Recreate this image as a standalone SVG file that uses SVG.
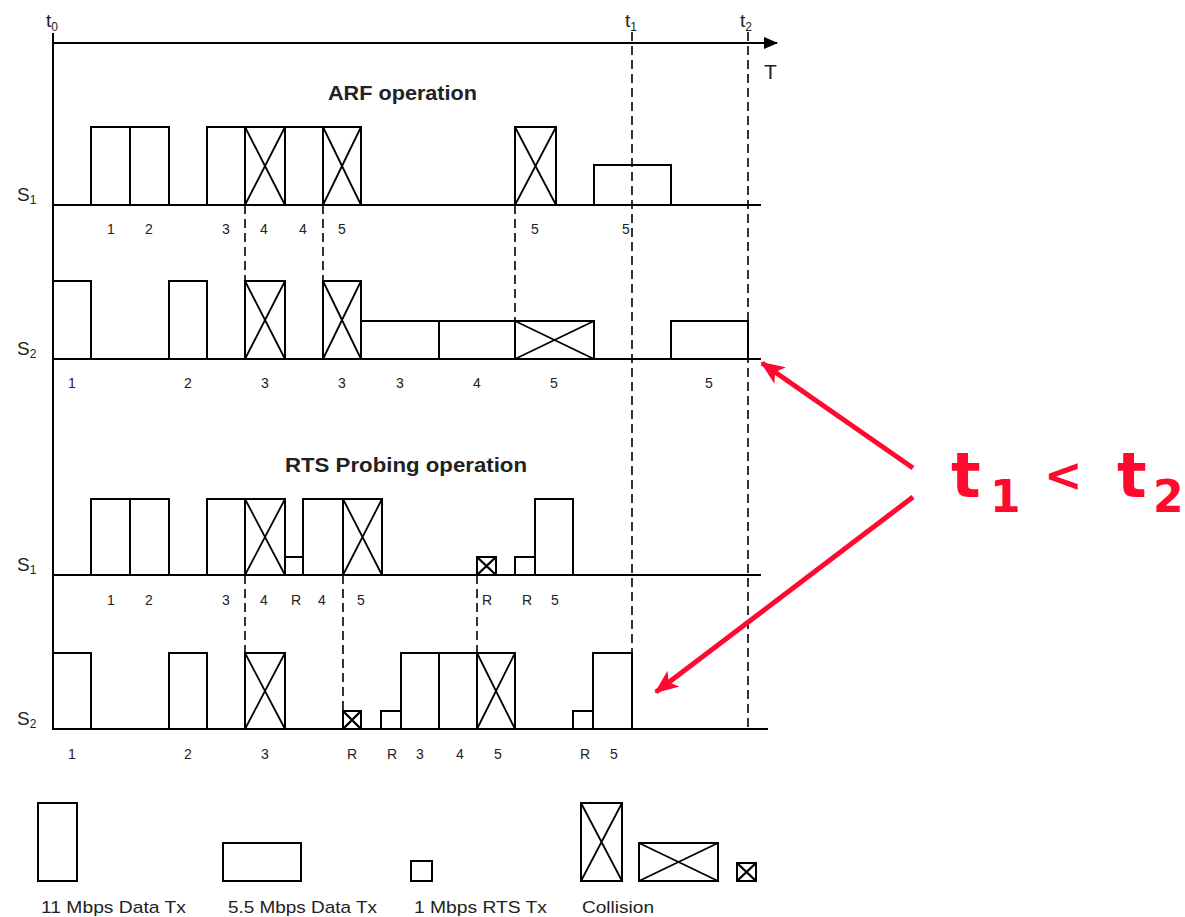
<svg xmlns="http://www.w3.org/2000/svg" width="1185" height="917" viewBox="0 0 1185 917">
<style>
.b{fill:none;stroke:#000;stroke-width:2}
.x{fill:none;stroke:#000;stroke-width:1.8}
.ax{fill:none;stroke:#000;stroke-width:2}
.d{fill:none;stroke:#000;stroke-width:1.6;stroke-dasharray:9,5}
.n{font-family:"Liberation Sans",Arial,sans-serif;font-size:14px;fill:#222;text-anchor:middle}
.s{font-family:"Liberation Sans",Arial,sans-serif;font-size:19px;fill:#222}
.sub{font-size:12px}
.h{font-family:"Liberation Sans",Arial,sans-serif;font-size:20px;font-weight:bold;fill:#222}
.lg{font-family:"Liberation Sans",Arial,sans-serif;font-size:17px;fill:#222}
.red{fill:none;stroke:#ff0a2e;stroke-width:5}
.rt{font-family:"DejaVu Sans",sans-serif;font-weight:bold;fill:#ff0a2e}
</style>
<defs>
<marker id="ah" markerUnits="userSpaceOnUse" markerWidth="24" markerHeight="20" refX="22" refY="10" orient="auto">
<path d="M0,0 L24,10 L0,20 L6,10 Z" fill="#ff0a2e"/>
</marker>
<marker id="ka" markerUnits="userSpaceOnUse" markerWidth="14" markerHeight="12" refX="13" refY="6" orient="auto">
<path d="M0,0 L14,6 L0,12 Z" fill="#000"/>
</marker>
</defs>

<g id="axes">
<line class="ax" x1="53" y1="33" x2="53" y2="730"/>
<line class="ax" x1="53" y1="43" x2="777" y2="43" marker-end="url(#ka)"/>
<text class="s" x="46" y="27">t<tspan class="sub" dy="4">0</tspan></text>
<text class="s" x="625" y="27">t<tspan class="sub" dy="4">1</tspan></text>
<text class="s" x="740" y="27">t<tspan class="sub" dy="4">2</tspan></text>
<text class="s" x="764" y="79" style="font-size:21px">T</text>
<text class="h" x="328" y="100" textLength="149" lengthAdjust="spacingAndGlyphs">ARF operation</text>
<text class="h" x="285" y="472" textLength="242" lengthAdjust="spacingAndGlyphs">RTS Probing operation</text>
</g>

<g id="arf-s1">
<line class="ax" x1="53" y1="205" x2="761" y2="205"/>
<text class="s" x="17" y="201">S<tspan class="sub" dy="3">1</tspan></text>
<path class="b" d="M91,205V127H130V205M130,127H169V205"/>
<path class="b" d="M207,205V127H245V205M245,127H285V205M285,127H323V205M323,127H361V205"/>
<path class="x" d="M245,205L285,127M245,127L285,205M323,205L361,127M323,127L361,205"/>
<rect class="b" x="515" y="127" width="41" height="78"/>
<path class="x" d="M515,205L556,127M515,127L556,205"/>
<rect class="b" x="594" y="165" width="77" height="40"/>
<text class="n" x="111" y="234">1</text><text class="n" x="149" y="234">2</text>
<text class="n" x="226" y="234">3</text><text class="n" x="264" y="234">4</text>
<text class="n" x="303" y="234">4</text><text class="n" x="342" y="234">5</text>
<text class="n" x="535" y="234">5</text><text class="n" x="626" y="234">5</text>
</g>

<g id="arf-s2">
<line class="ax" x1="53" y1="359" x2="761" y2="359"/>
<text class="s" x="17" y="355">S<tspan class="sub" dy="3">2</tspan></text>
<path class="b" d="M53,281H91V359"/>
<rect class="b" x="169" y="281" width="38" height="78"/>
<rect class="b" x="245" y="281" width="40" height="78"/>
<rect class="b" x="323" y="281" width="38" height="78"/>
<path class="x" d="M245,359L285,281M245,281L285,359M323,359L361,281M323,281L361,359"/>
<path class="b" d="M361,321H594V359M439,321V359M515,321V359"/>
<path class="x" d="M515,359L594,321M515,321L594,359"/>
<path class="b" d="M671,359V321H748V359"/>
<text class="n" x="72" y="388">1</text><text class="n" x="188" y="388">2</text>
<text class="n" x="265" y="388">3</text><text class="n" x="342" y="388">3</text>
<text class="n" x="400" y="388">3</text><text class="n" x="477" y="388">4</text>
<text class="n" x="554" y="388">5</text><text class="n" x="709" y="388">5</text>
</g>

<g id="rts-s1">
<line class="ax" x1="53" y1="575" x2="761" y2="575"/>
<text class="s" x="17" y="571">S<tspan class="sub" dy="3">1</tspan></text>
<path class="b" d="M91,575V499H130V575M130,499H169V575"/>
<path class="b" d="M207,575V499H285V575M245,499V575"/>
<path class="x" d="M245,575L285,499M245,499L285,575"/>
<path class="b" d="M285,557H303V575M303,575V499H382V575M343,499V575"/>
<path class="x" d="M343,575L382,499M343,499L382,575"/>
<rect class="b" x="477" y="557" width="19" height="18"/>
<path class="x" d="M477,575L496,557M477,557L496,575" style="stroke-width:2.4"/>
<path class="b" d="M515,575V557H535M535,575V499H573V575"/>
<text class="n" x="111" y="605">1</text><text class="n" x="149" y="605">2</text>
<text class="n" x="226" y="605">3</text><text class="n" x="264" y="605">4</text>
<text class="n" x="296" y="605">R</text><text class="n" x="322" y="605">4</text>
<text class="n" x="361" y="605">5</text><text class="n" x="487" y="605">R</text>
<text class="n" x="527" y="605">R</text><text class="n" x="555" y="605">5</text>
</g>

<g id="rts-s2">
<line class="ax" x1="53" y1="729" x2="768" y2="729"/>
<text class="s" x="17" y="725">S<tspan class="sub" dy="3">2</tspan></text>
<path class="b" d="M53,653H91V729"/>
<rect class="b" x="169" y="653" width="38" height="76"/>
<rect class="b" x="245" y="653" width="40" height="76"/>
<path class="x" d="M245,729L285,653M245,653L285,729"/>
<rect class="b" x="343" y="711" width="18" height="18"/>
<path class="x" d="M343,729L361,711M343,711L361,729" style="stroke-width:2.4"/>
<path class="b" d="M381,729V711H401M401,729V653H515V729M439,653V729M477,653V729"/>
<path class="x" d="M477,729L515,653M477,653L515,729"/>
<path class="b" d="M573,729V711H593M593,729V653H632V729"/>
<text class="n" x="72" y="759">1</text><text class="n" x="188" y="759">2</text>
<text class="n" x="265" y="759">3</text><text class="n" x="352" y="759">R</text>
<text class="n" x="392" y="759">R</text><text class="n" x="420" y="759">3</text>
<text class="n" x="460" y="759">4</text><text class="n" x="498" y="759">5</text>
<text class="n" x="585" y="759">R</text><text class="n" x="614" y="759">5</text>
</g>

<g id="legend">
<rect class="b" x="38" y="803" width="39" height="78"/>
<rect class="b" x="223" y="843" width="78" height="38"/>
<rect class="b" x="411" y="861" width="21" height="20"/>
<rect class="b" x="581" y="803" width="41" height="78"/>
<path class="x" d="M581,881L622,803M581,803L622,881"/>
<rect class="b" x="639" y="843" width="79" height="38"/>
<path class="x" d="M639,881L718,843M639,843L718,881"/>
<rect class="b" x="737" y="863" width="19" height="18"/>
<path class="x" d="M737,881L756,863M737,863L756,881" style="stroke-width:2.4"/>
<text class="lg" x="41" y="913" textLength="145" lengthAdjust="spacingAndGlyphs">11 Mbps Data Tx</text>
<text class="lg" x="228" y="913" textLength="149" lengthAdjust="spacingAndGlyphs">5.5 Mbps Data Tx</text>
<text class="lg" x="414" y="913" textLength="133" lengthAdjust="spacingAndGlyphs">1 Mbps RTS Tx</text>
<text class="lg" x="582" y="913" textLength="72" lengthAdjust="spacingAndGlyphs">Collision</text>
</g>

<g id="connectors">
<line class="d" x1="245" y1="205" x2="245" y2="281"/>
<line class="d" x1="323" y1="205" x2="323" y2="281"/>
<line class="d" x1="515" y1="205" x2="515" y2="321"/>
<line class="d" x1="245" y1="575" x2="245" y2="653"/>
<line class="d" x1="343" y1="575" x2="343" y2="711"/>
<line class="d" x1="477" y1="575" x2="477" y2="653"/>
<line class="d" x1="632" y1="32" x2="632" y2="729"/>
<line class="d" x1="748" y1="32" x2="748" y2="729"/>
<line class="red" x1="913" y1="468" x2="762" y2="363" marker-end="url(#ah)"/>
<line class="red" x1="913" y1="497" x2="656" y2="692" marker-end="url(#ah)"/>
</g>

<g id="annotation">
<text class="rt" x="951" y="497" style="font-size:62px">t</text>
<text class="rt" x="990" y="512" style="font-size:44px">1</text>
<text class="rt" x="1044" y="491" style="font-size:46px">&lt;</text>
<text class="rt" x="1117" y="497" style="font-size:62px">t</text>
<text class="rt" x="1153" y="512" style="font-size:44px">2</text>
</g>
</svg>
